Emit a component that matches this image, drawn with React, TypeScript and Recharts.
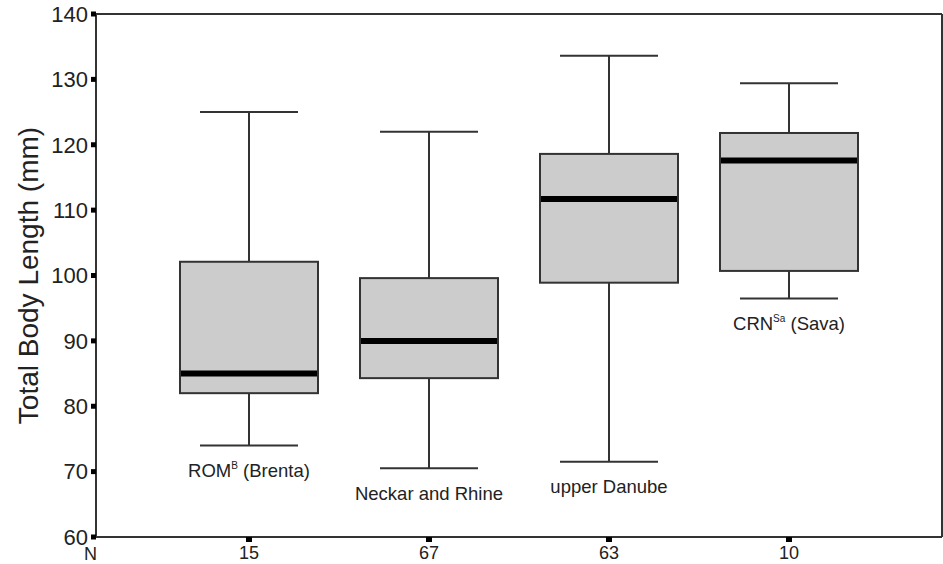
import React from 'react';
import { ComposedChart, Bar, XAxis, YAxis, CartesianGrid } from 'recharts';

const groupN = ['15', '67', '63', '10'];
const groupNames = ['ROM', 'Neckar and Rhine', 'upper Danube', 'CRN'];
const groupSup = ['B', '', '', 'Sa'];
const groupSuffix = [' (Brenta)', '', '', ' (Sava)'];
const whiskerLow = [74.0, 70.5, 71.5, 96.5];
const quartile1 = [82.0, 84.3, 98.9, 100.7];
const medians = [85.0, 90.0, 111.7, 117.6];
const quartile3 = [102.1, 99.6, 118.6, 121.8];
const whiskerHigh = [125.0, 122.0, 133.6, 129.4];
const yTicks = [60, 70, 80, 90, 100, 110, 120, 130, 140];

const data = groupN.map((n, i) => ({
  n,
  name: groupNames[i],
  sup: groupSup[i],
  suffix: groupSuffix[i],
  min: whiskerLow[i],
  q1: quartile1[i],
  median: medians[i],
  q3: quartile3[i],
  max: whiskerHigh[i],
  range: [whiskerLow[i], whiskerHigh[i]],
}));

const BoxShape = (props: any) => {
  const { x, y, width, height, payload } = props;
  if (payload == null || height == null) return null;
  const { min, q1, median, q3, max } = payload;
  const ppu = height / (max - min);
  const py = (v: number) => y + (max - v) * ppu;
  const cx = x + width / 2;
  const capHalf = width * 0.355;
  const stroke = '#333';
  return (
    <g>
      <line x1={cx} x2={cx} y1={py(max)} y2={py(q3)} stroke={stroke} strokeWidth={2} />
      <line x1={cx} x2={cx} y1={py(q1)} y2={py(min)} stroke={stroke} strokeWidth={2} />
      <line x1={cx - capHalf} x2={cx + capHalf} y1={py(max)} y2={py(max)} stroke={stroke} strokeWidth={2} />
      <line x1={cx - capHalf} x2={cx + capHalf} y1={py(min)} y2={py(min)} stroke={stroke} strokeWidth={2} />
      <rect x={x} y={py(q3)} width={width} height={py(q1) - py(q3)} fill="#cccccc" stroke={stroke} strokeWidth={2} />
      <line x1={x + 1} x2={x + width - 1} y1={py(median)} y2={py(median)} stroke="#000" strokeWidth={6} />
      <text x={cx} y={py(min) + 25} dy="0.35em" textAnchor="middle" fontSize={18.5} fill="#222">
        <tspan>{payload.name}</tspan>
        {payload.sup ? (
          <tspan fontSize={10} dy={-8}>{payload.sup}</tspan>
        ) : null}
        {payload.suffix ? (
          <tspan dy={payload.sup ? 8 : 0}>{payload.suffix}</tspan>
        ) : null}
      </text>
    </g>
  );
};

export default function App() {
  return (
    <div style={{ width: 943, height: 564 }}>
      <style>{`body{margin:0}`}</style>
      <ComposedChart
        width={943}
        height={564}
        data={data}
        margin={{ top: 14, right: 1, bottom: 0, left: 0 }}
        style={{ fontFamily: '"Liberation Sans", Arial, sans-serif' }}
      >
        <CartesianGrid
          stroke="#333"
          strokeWidth={2}
          horizontalCoordinatesGenerator={(p: any) => [p.offset.top]}
          verticalCoordinatesGenerator={(p: any) => [p.offset.left + p.offset.width]}
        />
        <XAxis
          dataKey="n"
          padding={{ left: 63, right: 63 }}
          height={27}
          axisLine={{ stroke: '#333', strokeWidth: 2 }}
          tickLine={{ stroke: '#000', strokeWidth: 6 }}
          tickSize={5}
          tickMargin={4}
          tick={{ fontSize: 18, fill: '#222' }}
          label={{ value: 'N', position: 'left', offset: -1, dy: 3, fontSize: 18, fill: '#222' }}
        />
        <YAxis
          type="number"
          domain={[60, 140]}
          ticks={yTicks}
          allowDataOverflow
          width={96}
          axisLine={{ stroke: '#333', strokeWidth: 2 }}
          tickLine={{ stroke: '#000', strokeWidth: 5 }}
          tickSize={5}
          tickMargin={3}
          tick={{ fontSize: 22, fill: '#222' }}
          label={{
            value: 'Total Body Length (mm)',
            angle: -90,
            position: 'insideLeft',
            offset: 28,
            style: { textAnchor: 'middle', fontSize: 28, fill: '#222' },
          }}
        />
        <Bar dataKey="range" barSize={138} shape={BoxShape} isAnimationActive={false} />
      </ComposedChart>
    </div>
  );
}
